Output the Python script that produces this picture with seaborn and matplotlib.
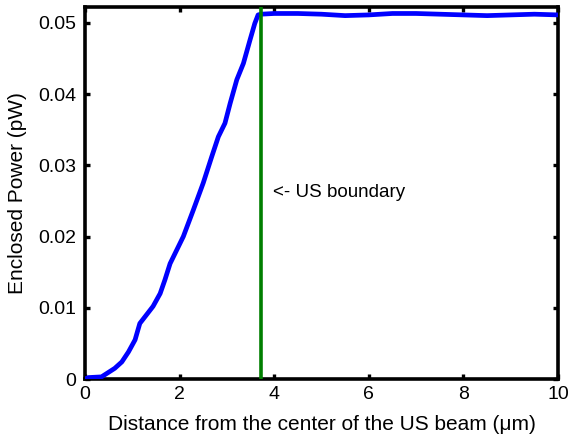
import matplotlib
matplotlib.use("Agg")
import matplotlib.pyplot as plt
import seaborn as sns
import pandas as pd

# Enclosed power versus radial distance from the beam centre
distance_um = [0.0, 0.07, 0.35, 0.63, 0.78, 0.92, 1.06, 1.16, 1.30, 1.44, 1.59,
               1.69, 1.80, 2.08, 2.29, 2.50, 2.68, 2.82, 2.96, 3.07, 3.21, 3.35,
               3.49, 3.59, 3.66, 3.72,
               4.0, 4.5, 5.0, 5.5, 6.0, 6.5, 7.0, 7.5, 8.0, 8.5, 9.0, 9.5, 10.0]
power_pw = [0.0, 0.0002, 0.0003, 0.0015, 0.0024, 0.0038, 0.0055, 0.0078, 0.0090,
            0.0102, 0.0120, 0.0139, 0.0162, 0.0200, 0.0237, 0.0275, 0.0312, 0.0340,
            0.0359, 0.0387, 0.0420, 0.0443, 0.0476, 0.0499, 0.0511, 0.0512,
            0.0513, 0.0513, 0.0512, 0.0510, 0.0511, 0.0513, 0.0513, 0.0512, 0.0511,
            0.0510, 0.0511, 0.0512, 0.0511]

boundary_um = 3.72
boundary_text = "<- US boundary"
boundary_text_pos = (3.98, 0.0262)

x_ticks = [0, 2, 4, 6, 8, 10]
x_tick_labels = ["0", "2", "4", "6", "8", "10"]
y_ticks = [0, 0.01, 0.02, 0.03, 0.04, 0.05]
y_tick_labels = ["0", "0.01", "0.02", "0.03", "0.04", "0.05"]

sns.set_theme(style="white")
plt.rcParams["font.family"] = ["Liberation Sans", "DejaVu Sans"]

df = pd.DataFrame({"distance": distance_um, "power": power_pw})

fig = plt.figure(figsize=(5.70, 4.42), dpi=100)
ax = fig.add_axes([0.149, 0.1425, 0.830, 0.8415])

sns.lineplot(data=df, x="distance", y="power", ax=ax, color="#0000ff",
             linewidth=3.4, zorder=3)
ax.axvline(boundary_um, color="#007f00", linewidth=2.6, zorder=4)
ax.text(boundary_text_pos[0], boundary_text_pos[1], boundary_text,
        fontsize=13.5, va="center", ha="left", color="black")

ax.set_xlim(0, 10)
ax.set_ylim(0, 0.0522)
ax.set_xticks(x_ticks)
ax.set_xticklabels(x_tick_labels)
ax.set_yticks(y_ticks)
ax.set_yticklabels(y_tick_labels)

ax.set_xlabel("Distance from the center of the US beam (\u03bcm)", fontsize=15,
              labelpad=9, color="black")
ax.set_ylabel("Enclosed Power (pW)", fontsize=15, labelpad=8, color="black")

for side in ["left", "right", "top", "bottom"]:
    ax.spines[side].set_visible(True)
    ax.spines[side].set_color("black")
    ax.spines[side].set_linewidth(2.6)

ax.tick_params(axis="both", which="both", direction="in", length=3.5, width=2.4,
               color="black", top=True, right=True, bottom=True, left=True,
               labelsize=14, labelcolor="black")
ax.tick_params(axis="x", pad=5)
ax.tick_params(axis="y", pad=6)

fig.savefig("out.png", dpi=100)
